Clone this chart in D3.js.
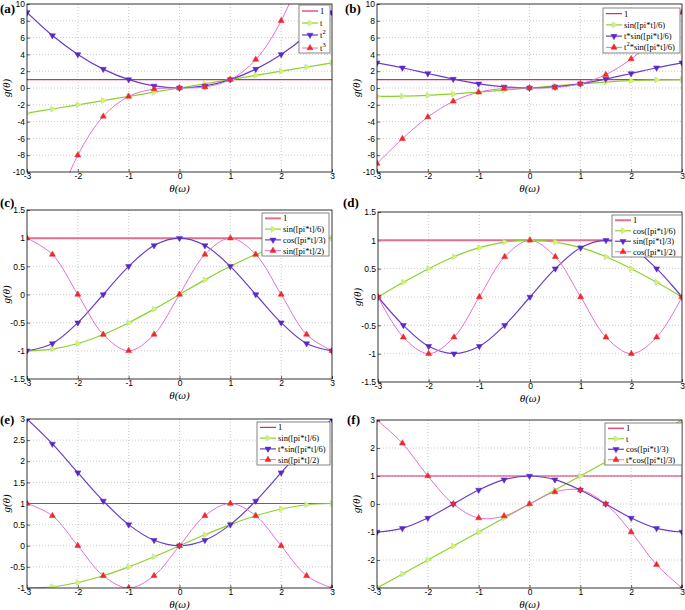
<!DOCTYPE html>
<html>
<head>
<meta charset="utf-8">
<script src="https://cdn.jsdelivr.net/npm/d3@7"></script>
<style>
  body { margin: 0; background: #fff; }
  .tick-label { font-family: "Liberation Sans", Arial, sans-serif; font-size: 8.5px; fill: #000; }
  .axis-title { font-family: "Liberation Serif", serif; font-style: italic; font-size: 11px; fill: #000; }
  .panel-label { font-family: "Liberation Serif", serif; font-weight: bold; font-size: 13px; fill: #000; }
  .legend-text { font-family: "Liberation Serif", serif; font-size: 8.5px; fill: #000; }
</style>
</head>
<body>
<script>
// sample points, every 0.5
const tValues = [-3, -2.5, -2, -1.5, -1, -0.5, 0, 0.5, 1, 1.5, 2, 2.5, 3];

// series
const one = [1, 1, 1, 1, 1, 1, 1, 1, 1, 1, 1, 1, 1];
const tLinear = [-3, -2.5, -2, -1.5, -1, -0.5, 0, 0.5, 1, 1.5, 2, 2.5, 3];
const tSquared = [9, 6.25, 4, 2.25, 1, 0.25, 0, 0.25, 1, 2.25, 4, 6.25, 9];
const tCubed = [-27, -15.6, -8, -3.38, -1, -0.13, 0, 0.13, 1, 3.38, 8, 15.6, 27];
const sin6 = [-1, -0.97, -0.87, -0.71, -0.5, -0.26, 0, 0.26, 0.5, 0.71, 0.87, 0.97, 1];
const tSin6 = [3, 2.41, 1.73, 1.06, 0.5, 0.13, 0, 0.13, 0.5, 1.06, 1.73, 2.41, 3];
const t2Sin6 = [-9, -6.04, -3.46, -1.59, -0.5, -0.06, 0, 0.06, 0.5, 1.59, 3.46, 6.04, 9];
const cos3 = [-1, -0.87, -0.5, 0, 0.5, 0.87, 1, 0.87, 0.5, 0, -0.5, -0.87, -1];
const sin2 = [1, 0.71, 0, -0.71, -1, -0.71, 0, 0.71, 1, 0.71, 0, -0.71, -1];
const cos6 = [0, 0.26, 0.5, 0.71, 0.87, 0.97, 1, 0.97, 0.87, 0.71, 0.5, 0.26, 0];
const sin3 = [0, -0.5, -0.87, -1, -0.87, -0.5, 0, 0.5, 0.87, 1, 0.87, 0.5, 0];
const cos2 = [0, -0.71, -1, -0.71, 0, 0.71, 1, 0.71, 0, -0.71, -1, -0.71, 0];
const tCos3 = [3, 2.17, 1, 0, -0.5, -0.43, 0, 0.43, 0.5, 0, -1, -2.17, -3];

// tick labels
const xTicks = [-3, -2, -1, 0, 1, 2, 3];
const yTicks10 = [-10, -8, -6, -4, -2, 0, 2, 4, 6, 8, 10];
const yTicks15 = [-1.5, -1, -0.5, 0, 0.5, 1, 1.5];
const yTicksE = [-1, -0.5, 0, 0.5, 1, 1.5, 2, 2.5, 3];
const yTicksF = [-3, -2, -1, 0, 1, 2, 3];

const styles = {
  one: { color: "#dc2c5c", width: 1.2 },
  onePink: { color: "#e0708e", width: 2 },
  green: { color: "#8cd22c", width: 1.2, marker: "right", fill: "#eef040", stroke: "#8ee0e0" },
  purple: { color: "#6a3cc8", width: 1.2, marker: "down", fill: "#5a28c8", stroke: "#5a28c8" },
  magenta: { color: "#e070d8", width: 1, marker: "up", fill: "#f02828", stroke: "#f02828" },
};

const panels = [
  {
    label: "(a)", lx: 0, ly: 13,
    box: { left: 27, right: 332, top: 4, bottom: 172 },
    yDomain: [-10, 10], yTicks: yTicks10,
    series: [
      { name: "1", values: one, style: "one" },
      { name: "t", values: tLinear, style: "green" },
      { name: "t^2", values: tSquared, style: "purple" },
      { name: "t^3", values: tCubed, style: "magenta" },
    ],
    legend: { x: 299, y: 5, w: 31, h: 48 },
  },
  {
    label: "(b)", lx: 345, ly: 13,
    box: { left: 377, right: 682, top: 4, bottom: 172 },
    yDomain: [-10, 10], yTicks: yTicks10,
    series: [
      { name: "1", values: one, style: "one" },
      { name: "sin([pi*t]/6)", values: sin6, style: "green" },
      { name: "t*sin([pi*t]/6)", values: tSin6, style: "purple" },
      { name: "t^2*sin([pi*t]/6)", values: t2Sin6, style: "magenta" },
    ],
    legend: { x: 603, y: 8, w: 77, h: 45 },
  },
  {
    label: "(c)", lx: 0, ly: 207,
    box: { left: 27, right: 332, top: 210, bottom: 379 },
    yDomain: [-1.5, 1.5], yTicks: yTicks15,
    series: [
      { name: "1", values: one, style: "onePink" },
      { name: "sin([pi*t]/6)", values: sin6, style: "green" },
      { name: "cos([pi*t]/3)", values: cos3, style: "purple" },
      { name: "sin([pi*t]/2)", values: sin2, style: "magenta" },
    ],
    legend: { x: 262, y: 213, w: 67, h: 43 },
  },
  {
    label: "(d)", lx: 343, ly: 207,
    box: { left: 378, right: 682, top: 212, bottom: 382 },
    yDomain: [-1.5, 1.5], yTicks: yTicks15,
    series: [
      { name: "1", values: one, style: "onePink" },
      { name: "cos([pi*t]/6)", values: cos6, style: "green" },
      { name: "sin([pi*t]/3)", values: sin3, style: "purple" },
      { name: "cos([pi*t]/2)", values: cos2, style: "magenta" },
    ],
    legend: { x: 612, y: 215, w: 70, h: 42 },
  },
  {
    label: "(e)", lx: 0, ly: 424,
    box: { left: 27, right: 332, top: 419, bottom: 588 },
    yDomain: [-1, 3], yTicks: yTicksE,
    series: [
      { name: "1", values: one, style: "one" },
      { name: "sin([pi*t]/6)", values: sin6, style: "green" },
      { name: "t*sin([pi*t]/6)", values: tSin6, style: "purple" },
      { name: "sin([pi*t]/2)", values: sin2, style: "magenta" },
    ],
    legend: { x: 257, y: 422, w: 73, h: 43 },
  },
  {
    label: "(f)", lx: 347, ly: 424,
    box: { left: 377, right: 682, top: 420, bottom: 588 },
    yDomain: [-3, 3], yTicks: yTicksF,
    series: [
      { name: "1", values: one, style: "one" },
      { name: "t", values: tLinear, style: "green" },
      { name: "cos([pi*t]/3)", values: cos3, style: "purple" },
      { name: "t*cos([pi*t]/3)", values: tCos3, style: "magenta" },
    ],
    legend: { x: 605, y: 423, w: 77, h: 42 },
  },
];

const svg = d3.select("body").append("svg")
  .attr("width", 685)
  .attr("height", 610);

const markerPath = d3.symbol().type(d3.symbolTriangle).size(16);
const rotation = { up: 0, right: 90, down: 180 };

const drawMarker = (g, x, y, st) => {
  g.append("path")
    .attr("d", markerPath())
    .attr("transform", `translate(${x},${y}) rotate(${rotation[st.marker]})`)
    .attr("fill", st.fill)
    .attr("stroke", st.stroke)
    .attr("stroke-width", 0.5);
};

// "t^2*sin" -> t with a superscript 2
const writeLabel = (text, label) => {
  let shift = 0;
  label.split(/(\^\d)/).forEach((part) => {
    if (!part) return;
    if (part.startsWith("^")) {
      text.append("tspan").attr("dy", -4).attr("font-size", "6.5px").text(part.slice(1));
      shift = 4;
    } else {
      text.append("tspan").attr("dy", shift).text(part);
      shift = 0;
    }
  });
};

const drawPanel = (p, idx) => {
  const { left, right, top, bottom } = p.box;
  const x = d3.scaleLinear().domain([-3, 3]).range([left, right]);
  const y = d3.scaleLinear().domain(p.yDomain).range([bottom, top]);

  const g = svg.append("g");
  const clipId = `clip${idx}`;
  svg.append("clipPath").attr("id", clipId)
    .append("rect")
    .attr("x", left).attr("y", top)
    .attr("width", right - left).attr("height", bottom - top);

  // grid
  g.append("g").selectAll("line").data(xTicks.slice(1, -1)).join("line")
    .attr("x1", (d) => x(d)).attr("x2", (d) => x(d))
    .attr("y1", top).attr("y2", bottom)
    .attr("stroke", "#aaa").attr("stroke-width", 0.6).attr("stroke-dasharray", "1,2");
  g.append("g").selectAll("line").data(p.yTicks.slice(1, -1)).join("line")
    .attr("x1", left).attr("x2", right)
    .attr("y1", (d) => y(d)).attr("y2", (d) => y(d))
    .attr("stroke", "#aaa").attr("stroke-width", 0.6).attr("stroke-dasharray", "1,2");

  // axes (ticks point inwards, like matlab)
  const xAxis = g.append("g").attr("transform", `translate(0,${bottom})`)
    .call(d3.axisBottom(x).tickValues(xTicks).tickFormat((d) => String(d))
      .tickSizeInner(-3).tickSizeOuter(0).tickPadding(1));
  const yAxis = g.append("g").attr("transform", `translate(${left},0)`)
    .call(d3.axisLeft(y).tickValues(p.yTicks).tickFormat((d) => String(d))
      .tickSizeInner(-3).tickSizeOuter(0).tickPadding(2));
  [xAxis, yAxis].forEach((a) => {
    a.select(".domain").remove();
    a.selectAll(".tick line").attr("stroke", "#000").attr("stroke-width", 0.6);
    a.selectAll("text").attr("class", "tick-label").attr("font-family", null).attr("font-size", null);
  });

  // data
  const plot = g.append("g").attr("clip-path", `url(#${clipId})`);
  const line = d3.line()
    .x((d, i) => x(tValues[i]))
    .y((d) => y(d))
    .curve(d3.curveCatmullRom.alpha(0.5));

  p.series.forEach((s) => {
    const st = styles[s.style];
    plot.append("path")
      .datum(s.values)
      .attr("d", line)
      .attr("fill", "none")
      .attr("stroke", st.color)
      .attr("stroke-width", st.width);
  });
  p.series.forEach((s) => {
    const st = styles[s.style];
    if (!st.marker) return;
    s.values.forEach((v, i) => {
      const [lo, hi] = p.yDomain;
      if (v < lo || v > hi) return;
      drawMarker(plot, x(tValues[i]), y(v), st);
    });
  });

  // frame
  g.append("rect")
    .attr("x", left).attr("y", top)
    .attr("width", right - left).attr("height", bottom - top)
    .attr("fill", "none").attr("stroke", "#000").attr("stroke-width", 0.8);

  // titles
  g.append("text").attr("class", "axis-title")
    .attr("x", (left + right) / 2).attr("y", bottom + 20)
    .attr("text-anchor", "middle").text("θ(ω)");
  g.append("text").attr("class", "axis-title")
    .attr("transform", `translate(${left - 17},${(top + bottom) / 2}) rotate(-90)`)
    .attr("text-anchor", "middle").text("g(θ)");
  svg.append("text").attr("class", "panel-label")
    .attr("x", p.lx).attr("y", p.ly).text(p.label);

  // legend
  const lg = p.legend;
  const leg = g.append("g");
  leg.append("rect")
    .attr("x", lg.x).attr("y", lg.y).attr("width", lg.w).attr("height", lg.h)
    .attr("fill", "#fff").attr("stroke", "#666").attr("stroke-width", 0.8);
  const rowH = lg.h / p.series.length;
  p.series.forEach((s, i) => {
    const st = styles[s.style];
    const cy = lg.y + rowH * (i + 0.5) + (i === 3 && p.label === "(a)" ? 1 : 0);
    leg.append("line")
      .attr("x1", lg.x + 3).attr("x2", lg.x + 19)
      .attr("y1", cy).attr("y2", cy)
      .attr("stroke", st.color).attr("stroke-width", st.width);
    if (st.marker) drawMarker(leg, lg.x + 11, cy, st);
    const t = leg.append("text").attr("class", "legend-text")
      .attr("x", lg.x + 21).attr("y", cy + 3);
    writeLabel(t, s.name);
  });
};

panels.forEach(drawPanel);
</script>
</body>
</html>
